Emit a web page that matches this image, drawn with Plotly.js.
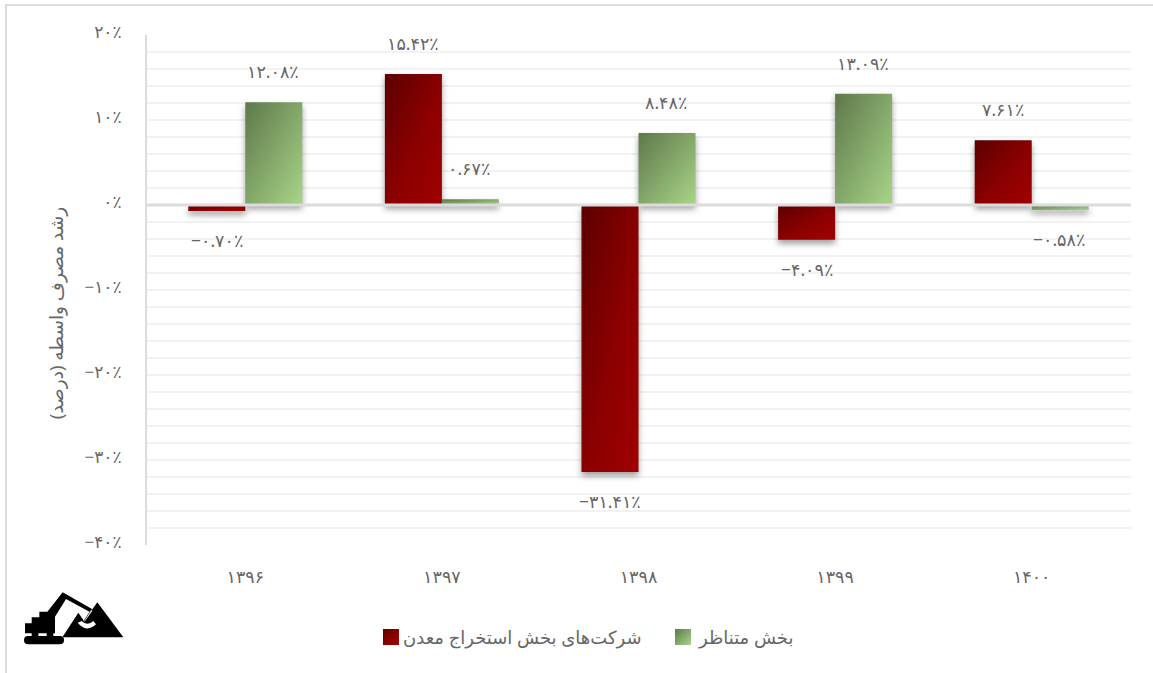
<!DOCTYPE html>
<html><head><meta charset="utf-8">
<script src="https://cdn.plot.ly/plotly-3.0.1.min.js"></script>
<style>
html,body{margin:0;padding:0;background:#fff;overflow:hidden}
#frame{position:absolute;left:5px;top:4px;width:1160px;height:680px;border:2px solid #dcdcdc;box-sizing:border-box;pointer-events:none}
#chart{position:absolute;left:0;top:0;width:1153px;height:673px}
</style></head><body>
<div id="chart"></div><div id="frame"></div>
<script>
const years = ['۱۳۹۶','۱۳۹۷','۱۳۹۸','۱۳۹۹','۱۴۰۰'];
const mining = [-0.70,15.42,-31.41,-4.09,7.61];
const peers = [12.08,0.67,8.48,13.09,-0.58];
const miningLabels = ['−۰.۷۰٪','۱۵.۴۲٪','−۳۱.۴۱٪','−۴.۰۹٪','۷.۶۱٪'];
const peerLabels = ['۱۲.۰۸٪','۰.۶۷٪','۸.۴۸٪','۱۳.۰۹٪','−۰.۵۸٪'];
const tickValues = [-40,-30,-20,-10,0,10,20];
const tickLabels = ['−۴۰٪','−۳۰٪','−۲۰٪','−۱۰٪','۰٪','۱۰٪','۲۰٪'];
const miningName = 'شرکت‌های بخش استخراج معدن';
const peerName = 'بخش متناظر';
const axisTitle = 'رشد مصرف واسطه (درصد)';

const FONT = '"Noto Sans","DejaVu Sans",sans-serif';
const TEXT = '#666666';
const logo = `<svg xmlns="http://www.w3.org/2000/svg" viewBox="0 0 375 195"><g fill="#000">
<rect x="42" y="153" width="120" height="25" rx="12"/>
<rect x="65" y="144" width="20" height="10"/><rect x="110" y="144" width="20" height="10"/>
<path d="M45 115H65V97H88V80H112L158 22L246 72L241 82L168 42L135 95V145H45Z"/>
<path d="M157 157L205 83L222 108L262 52L340 157Z"/>
<path d="M203 113Q230 145 258 118L250 108Q232 125 215 108Z" fill="#fff"/>
<path d="M222 108L245 76" stroke="#fff" stroke-width="5" fill="none"/>
<path d="M245 72L222 108" stroke="#000" stroke-width="2" fill="none"/>
</g></svg>`;

const base = {type:'bar', width:0.29, hoverinfo:'skip', cliponaxis:false};
const data = [
 Object.assign({}, base, {x:[0,1,2,3,4], y:mining, offset:-0.29, name:miningName, marker:{color:'#800000'}}),
 Object.assign({}, base, {x:[0,1,2,3,4], y:peers, offset:0, name:peerName, marker:{color:'#83ab69'}})
];
const anns = [];
function add(vals,labels,shift){vals.forEach((v,i)=>anns.push({x:i,y:v,xref:'x',yref:'y',text:labels[i],showarrow:false,
  xshift:shift,yshift:v>=0?31:-29,xanchor:'center',yanchor:'middle',font:{family:FONT,size:17.5,color:TEXT}}));}
add(mining,miningLabels,-28.5); add(peers,peerLabels,27.5);

const layout = {
 width:1153,height:673,paper_bgcolor:'#fff',plot_bgcolor:'#fff',
 margin:{l:147,r:22,t:35,b:128},
 font:{family:FONT,color:TEXT},
 barmode:'overlay',showlegend:true,
 xaxis:{type:'linear',range:[-0.5,4.505],tickvals:[0,1,2,3,4],ticktext:years,showgrid:false,zeroline:false,showline:false,ticks:'',
   tickfont:{family:FONT,size:17.5,color:TEXT},ticklabelstandoff:19},
 yaxis:{range:[-40,20],tickvals:tickValues,ticktext:tickLabels,showgrid:true,gridcolor:'#f2f2f2',gridwidth:2,
   minor:{dtick:2,showgrid:true,gridcolor:'#f2f2f2',gridwidth:2,ticks:''},
   zeroline:false,showline:true,linecolor:'#dcdcdc',linewidth:2,ticks:'',
   tickfont:{family:FONT,size:17,color:TEXT},ticklabelstandoff:20,ticklabelshift:-3,
   title:{text:axisTitle,font:{family:FONT,size:18.5,color:TEXT},standoff:16}},
 legend:{orientation:'h',x:0.2195,xanchor:'left',y:-0.181,yanchor:'middle',font:{family:FONT,size:18,color:TEXT},
   itemwidth:30,entrywidth:247,entrywidthmode:'pixels',bgcolor:'rgba(0,0,0,0)'},
 annotations:anns,
 shapes:[{type:'line',xref:'paper',x0:0,x1:1,yref:'y',y0:0,y1:0,line:{color:'#dcdcdc',width:3},layer:'above'}],
 images:[{source:'data:image/svg+xml;utf8,'+encodeURIComponent(logo),xref:'paper',yref:'paper',x:-0.1392,y:-0.0784,sizex:0.127,sizey:0.1275,xanchor:'left',yanchor:'top',sizing:'stretch',layer:'above'}]
};
function decorate(gd){
 const svg = gd.querySelector('svg.main-svg');
 const NS='http://www.w3.org/2000/svg';
 const defs=document.createElementNS(NS,'defs');
 defs.innerHTML=`<linearGradient id="gRed" x1="0" y1="0" x2="1" y2="1"><stop offset="0" stop-color="#5c0000"/><stop offset="0.55" stop-color="#8c0000"/><stop offset="1" stop-color="#a00000"/></linearGradient>
 <linearGradient id="gGreen" x1="0" y1="0" x2="1" y2="1"><stop offset="0" stop-color="#5e784a"/><stop offset="1" stop-color="#a8d588"/></linearGradient>`;
 svg.insertBefore(defs,svg.firstChild);
 gd.querySelectorAll('.barlayer .trace.bars').forEach((t,i)=>{
   t.querySelectorAll('path').forEach(p=>{p.style.fill=`url(#${i?'gGreen':'gRed'})`;p.style.filter='drop-shadow(0px 4px 3px rgba(0,0,0,0.38))';});
 });
 gd.querySelectorAll('.legend .traces').forEach((t,i)=>{
   const p=t.querySelector('.legendpoints path'); if(p){p.style.fill=`url(#${i?'gGreen':'gRed'})`;p.style.stroke='none';p.setAttribute('d','M0,-8h16v16h-16z');}
   const tx=t.querySelector('.legendtext'); if(tx&&i===1){tx.setAttribute('transform','translate(4,0)');}
 });
 const title=gd.querySelector('.ytitle');
 if(title){title.setAttribute('transform','translate(0,23) '+(title.getAttribute('transform')||''));}
}
Plotly.newPlot('chart',data,layout,{displayModeBar:false,staticPlot:true}).then(decorate);
</script></body></html>
